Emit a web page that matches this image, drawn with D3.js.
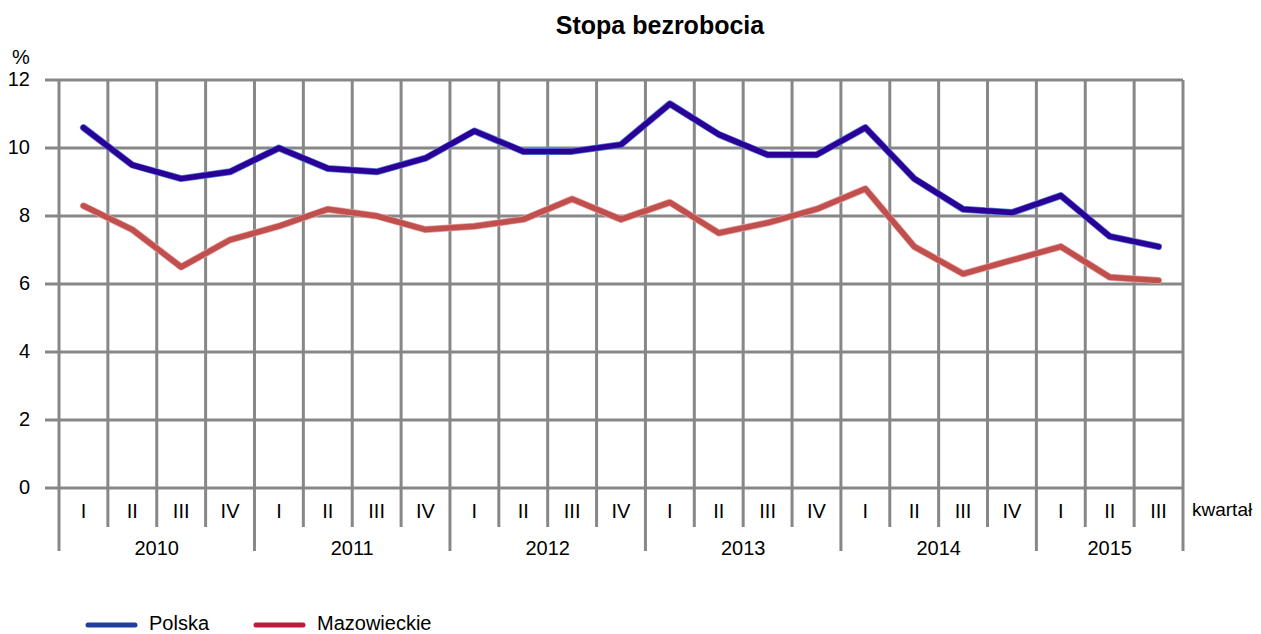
<!DOCTYPE html>
<html>
<head>
<meta charset="utf-8">
<script src="https://cdn.jsdelivr.net/npm/d3@7"></script>
<style>
  body { margin: 0; background: #fff; }
  svg { display: block; font-family: "Liberation Sans", Arial, sans-serif; }
</style>
</head>
<body>
<svg id="chart" width="1261" height="634"></svg>
<script>
// chart data
const years = ['2010', '2011', '2012', '2013', '2014', '2015'];
const quarters = ['I', 'II', 'III', 'IV'];
const polska = [10.6, 9.5, 9.1, 9.3, 10.0, 9.4, 9.3, 9.7, 10.5, 9.9, 9.9, 10.1,
  11.3, 10.4, 9.8, 9.8, 10.6, 9.1, 8.2, 8.1, 8.6, 7.4, 7.1];
const mazowieckie = [8.3, 7.6, 6.5, 7.3, 7.7, 8.2, 8.0, 7.6, 7.7, 7.9, 8.5, 7.9,
  8.4, 7.5, 7.8, 8.2, 8.8, 7.1, 6.3, 6.7, 7.1, 6.2, 6.1];
const yTicks = [0, 2, 4, 6, 8, 10, 12];

const periods = polska.map((d, i) => ({
  i,
  year: years[Math.floor(i / 4)],
  q: quarters[i % 4],
}));

const svg = d3.select('#chart');
const plotLeft = 59;
const plotRight = 1183;
const plotTop = 80;
const plotBottom = 488;
const gridColor = '#878787';

const x = d3.scaleBand()
  .domain(periods.map(d => d.i))
  .range([plotLeft, plotRight]);

const y = d3.scaleLinear()
  .domain([0, 12])
  .range([plotBottom, plotTop]);

// title
svg.append('text')
  .attr('x', 660).attr('y', 34)
  .attr('text-anchor', 'middle')
  .style('font-size', '25px')
  .style('font-weight', 'bold')
  .text('Stopa bezrobocia');

svg.append('text')
  .attr('x', 12).attr('y', 64)
  .style('font-size', '20px')
  .text('%');

// horizontal grid + y labels
const yg = svg.append('g');
yg.selectAll('line').data(yTicks).enter().append('line')
  .attr('x1', 45).attr('x2', plotRight)
  .attr('y1', d => y(d)).attr('y2', d => y(d))
  .style('stroke', gridColor)
  .style('stroke-width', 3);
yg.selectAll('text').data(yTicks).enter().append('text')
  .attr('x', 30).attr('y', d => y(d) + 6)
  .attr('text-anchor', 'end')
  .style('font-size', '20px')
  .text(d => d);

// vertical grid
const bounds = d3.range(periods.length + 1);
svg.append('g').selectAll('line').data(bounds).enter().append('line')
  .attr('x1', d => plotLeft + d * x.step()).attr('x2', d => plotLeft + d * x.step())
  .attr('y1', plotTop)
  .attr('y2', d => (d % 4 === 0 || d === periods.length ? 551 : 527))
  .style('stroke', gridColor)
  .style('stroke-width', 3);

// quarter labels
svg.append('g').selectAll('text').data(periods).enter().append('text')
  .attr('x', d => x(d.i) + x.bandwidth() / 2)
  .attr('y', 518)
  .attr('text-anchor', 'middle')
  .style('font-size', '20px')
  .text(d => d.q);

// year labels
svg.append('g').selectAll('text').data(years).enter().append('text')
  .attr('x', (d, k) => {
    const n = Math.min(4, periods.length - k * 4);
    return plotLeft + (k * 4 + n / 2) * x.step();
  })
  .attr('y', 555)
  .attr('text-anchor', 'middle')
  .style('font-size', '20px')
  .text(d => d);

svg.append('text')
  .attr('x', 1192).attr('y', 516)
  .style('font-size', '19px')
  .text('kwartał');

// lines
const line = d3.line()
  .x((d, i) => x(i) + x.bandwidth() / 2)
  .y(d => y(d));

const series = [
  { values: mazowieckie, edge: '#e8a0a0', color: '#c0504d' },
  { values: polska, edge: '#5b86d6', color: '#2a0096' },
];
series.forEach((s) => {
  svg.append('path').datum(s.values)
    .attr('d', line)
    .style('fill', 'none')
    .style('stroke', s.edge)
    .style('stroke-width', 7)
    .style('stroke-linejoin', 'round')
    .style('stroke-linecap', 'round');
  svg.append('path').datum(s.values)
    .attr('d', line)
    .style('fill', 'none')
    .style('stroke', s.color)
    .style('stroke-width', 5.5)
    .style('stroke-linejoin', 'round')
    .style('stroke-linecap', 'round');
});

// legend
const legend = [
  { name: 'Polska', color: '#1f3ea0', x: 88 },
  { name: 'Mazowieckie', color: '#c0183f', x: 256 },
];
const lg = svg.append('g').selectAll('g').data(legend).enter().append('g');
lg.append('line')
  .attr('x1', d => d.x).attr('x2', d => d.x + 47)
  .attr('y1', 625).attr('y2', 625)
  .style('stroke', d => d.color)
  .style('stroke-width', 5)
  .style('stroke-linecap', 'round');
lg.append('text')
  .attr('x', d => d.x + 61).attr('y', 630)
  .style('font-size', '20px')
  .text(d => d.name);
</script>
</body>
</html>
